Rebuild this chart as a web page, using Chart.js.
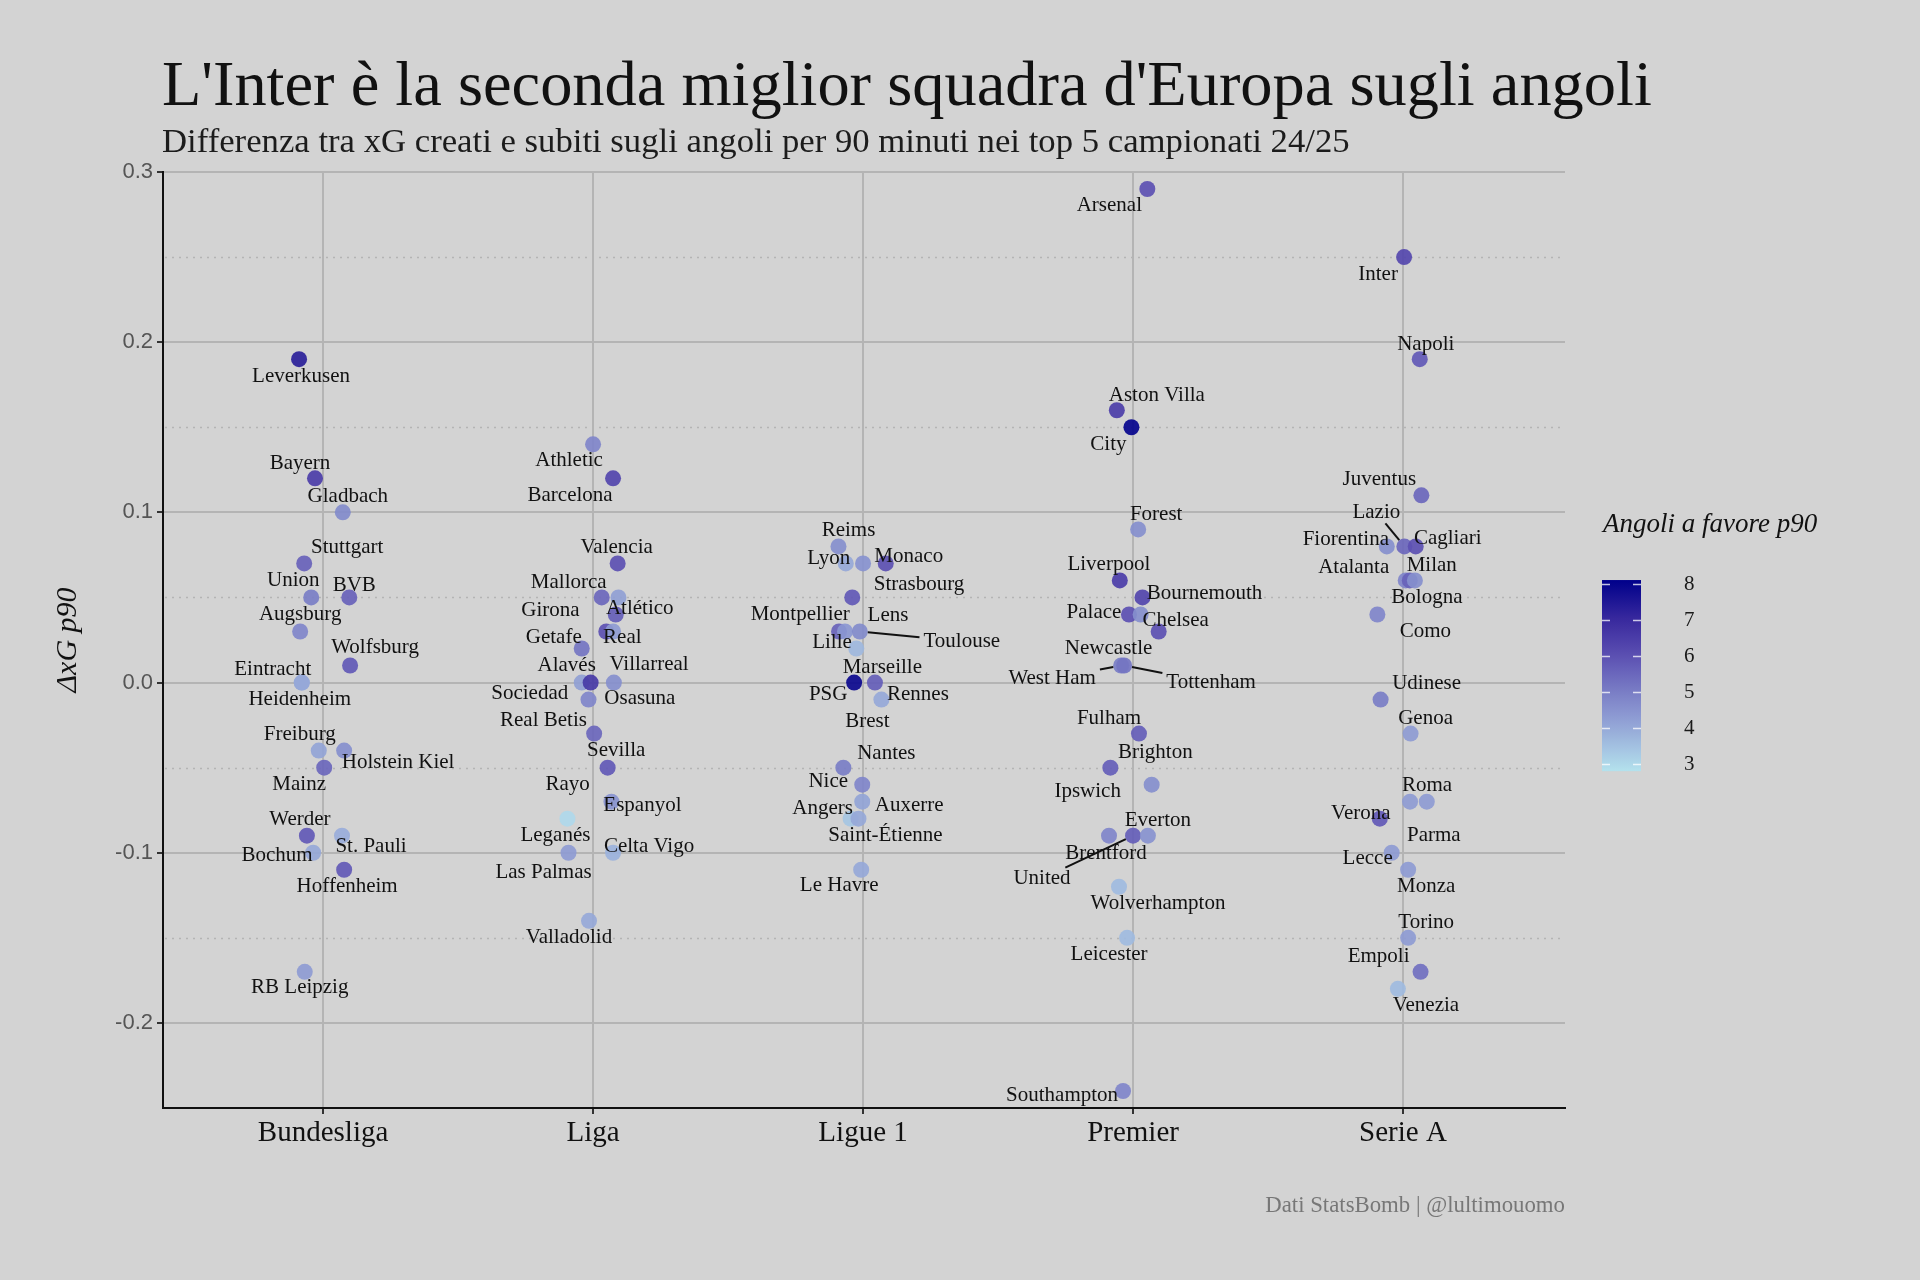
<!DOCTYPE html>
<html>
<head>
<meta charset="utf-8">
<script src="https://cdn.jsdelivr.net/npm/chart.js@4.4.1/dist/chart.umd.min.js"></script>
<style>
  html, body { margin: 0; padding: 0; background: #d3d3d3; }
  #wrap { width: 1920px; height: 1280px; }
</style>
</head>
<body>
<div id="wrap"><canvas id="corners" width="1920" height="1280"></canvas></div>
<script>
// --- data ---------------------------------------------------------------
var leagues = ['Bundesliga', 'Liga', 'Ligue 1', 'Premier', 'Serie A'];
var yTicks = [-0.2, -0.1, 0, 0.1, 0.2, 0.3];
var yMinorTicks = [-0.15, -0.05, 0.05, 0.15, 0.25];
var cornerTicks = [3, 4, 5, 6, 7, 8];

var bundesligaTeams = ['Leverkusen', 'Bayern', 'Gladbach', 'Stuttgart', 'Union', 'BVB', 'Augsburg', 'Wolfsburg', 'Eintracht', 'Heidenheim', 'Freiburg', 'Holstein Kiel', 'Mainz', 'Werder', 'St. Pauli', 'Bochum', 'Hoffenheim', 'RB Leipzig'];
var bundesligaXg = [0.19, 0.12, 0.10, 0.07, 0.05, 0.05, 0.03, 0.01, 0.00, 0.00, -0.04, -0.04, -0.05, -0.09, -0.09, -0.10, -0.11, -0.17];
var bundesligaCorners = [7.3, 6.5, 4.7, 5.6, 5.0, 5.6, 4.8, 5.8, 4.0, 4.0, 4.1, 4.6, 5.5, 5.8, 3.9, 4.0, 5.8, 4.3];
var bundesligaJitter = [-0.089, -0.03, 0.073, -0.07, -0.044, 0.097, -0.085, 0.1, -0.079, -0.079, -0.016, 0.078, 0.004, -0.06, 0.07, -0.037, 0.078, -0.068];

var ligaTeams = ['Athletic', 'Barcelona', 'Valencia', 'Mallorca', 'Girona', 'Atlético', 'Real', 'Villarreal', 'Getafe', 'Sociedad', 'Alavés', 'Osasuna', 'Real Betis', 'Sevilla', 'Rayo', 'Espanyol', 'Leganés', 'Las Palmas', 'Celta Vigo', 'Valladolid'];
var ligaXg = [0.14, 0.12, 0.07, 0.05, 0.05, 0.04, 0.03, 0.03, 0.02, 0.00, 0.00, 0.00, -0.01, -0.03, -0.05, -0.07, -0.08, -0.10, -0.10, -0.14];
var ligaCorners = [4.8, 6.3, 6.0, 5.5, 4.2, 5.7, 6.0, 4.3, 5.2, 4.2, 6.6, 4.6, 4.8, 5.5, 5.8, 4.5, 3.0, 4.3, 3.8, 4.0];
var ligaJitter = [0, 0.074, 0.091, 0.032, 0.094, 0.084, 0.049, 0.074, -0.042, -0.042, -0.009, 0.077, -0.017, 0.004, 0.054, 0.068, -0.095, -0.091, 0.074, -0.015];

var ligue1Teams = ['Reims', 'Lyon', 'Strasbourg', 'Monaco', 'Montpellier', 'Lille', 'Lens', 'Toulouse', 'Marseille', 'PSG', 'Rennes', 'Brest', 'Nantes', 'Nice', 'Auxerre', 'Angers', 'Saint-Étienne', 'Le Havre'];
var ligue1Xg = [0.08, 0.07, 0.07, 0.07, 0.05, 0.03, 0.03, 0.03, 0.02, 0.00, 0.00, -0.01, -0.05, -0.06, -0.07, -0.08, -0.08, -0.11];
var ligue1Corners = [4.6, 4.0, 4.5, 6.0, 5.8, 5.6, 4.4, 4.7, 3.7, 7.9, 5.7, 4.0, 5.0, 4.8, 4.1, 3.4, 4.0, 4.0];
var ligue1Jitter = [-0.091, -0.064, 0, 0.084, -0.04, -0.089, -0.067, -0.012, -0.025, -0.033, 0.044, 0.068, -0.073, -0.003, -0.003, -0.046, -0.017, -0.007];

var premierTeams = ['Arsenal', 'Aston Villa', 'City', 'Forest', 'Liverpool', 'Bournemouth', 'Palace', 'Newcastle', 'Chelsea', 'West Ham', 'Tottenham', 'Fulham', 'Brighton', 'Ipswich', 'Brentford', 'United', 'Everton', 'Wolverhampton', 'Leicester', 'Southampton'];
var premierXg = [0.29, 0.16, 0.15, 0.09, 0.06, 0.05, 0.04, 0.04, 0.03, 0.01, 0.01, -0.03, -0.05, -0.06, -0.09, -0.09, -0.09, -0.12, -0.15, -0.24];
var premierCorners = [6.0, 6.5, 8.0, 4.6, 6.5, 6.3, 6.0, 4.6, 6.0, 5.0, 5.2, 5.7, 5.7, 4.6, 4.8, 5.7, 4.5, 3.6, 3.6, 4.8];
var premierJitter = [0.053, -0.06, -0.006, 0.019, -0.049, 0.035, -0.015, 0.028, 0.095, -0.044, -0.033, 0.022, -0.084, 0.069, -0.089, 0, 0.055, -0.052, -0.022, -0.037];

var serieATeams = ['Inter', 'Napoli', 'Juventus', 'Lazio', 'Fiorentina', 'Cagliari', 'Atalanta', 'Milan', 'Bologna', 'Como', 'Udinese', 'Genoa', 'Roma', 'Parma', 'Verona', 'Lecce', 'Monza', 'Torino', 'Empoli', 'Venezia'];
var serieAXg = [0.25, 0.19, 0.11, 0.08, 0.08, 0.08, 0.06, 0.06, 0.06, 0.04, -0.01, -0.03, -0.07, -0.07, -0.08, -0.10, -0.11, -0.15, -0.17, -0.18];
var serieACorners = [6.2, 5.8, 5.5, 5.5, 4.6, 6.0, 4.8, 5.6, 4.6, 4.8, 5.0, 4.3, 4.3, 4.3, 5.8, 4.3, 4.3, 4.3, 5.3, 3.6];
var serieAJitter = [0.004, 0.062, 0.068, 0.005, -0.06, 0.047, 0.01, 0.025, 0.044, -0.095, -0.083, 0.028, 0.026, 0.088, -0.086, -0.042, 0.019, 0.019, 0.065, -0.019];

// --- label placement (px from the point, like ggrepel output) -----------
var labelNudge = {
  'Leverkusen': [2, 17], 'Bayern': [-15, -15], 'Gladbach': [5, -16], 'Stuttgart': [43, -16],
  'Union': [-18, -17], 'BVB': [5, -12], 'Augsburg': [0, -17], 'Wolfsburg': [25, -18],
  'Eintracht': [-29, -13], 'Heidenheim': [-2, 17], 'Freiburg': [-19, -16], 'Holstein Kiel': [54, 12],
  'Mainz': [-25, 17], 'Werder': [-7, -16], 'St. Pauli': [29, 11], 'Bochum': [-36, 3],
  'Hoffenheim': [3, 17], 'RB Leipzig': [-5, 16],
  'Athletic': [-24, 16], 'Barcelona': [-43, 17], 'Valencia': [-1, -16], 'Mallorca': [-33, -15],
  'Girona': [-68, 13], 'Atlético': [24, -6], 'Real': [16, 6], 'Villarreal': [36, 33],
  'Getafe': [-28, -11], 'Sociedad': [-52, 11], 'Alavés': [-24, -17], 'Osasuna': [26, 16],
  'Real Betis': [-45, 21], 'Sevilla': [22, 17], 'Rayo': [-40, 17], 'Espanyol': [31, 4],
  'Leganés': [-12, 17], 'Las Palmas': [-25, 20], 'Celta Vigo': [36, -6], 'Valladolid': [-20, 17],
  'Reims': [10, -16], 'Lyon': [-17, -5], 'Strasbourg': [56, 21], 'Monaco': [23, -7],
  'Montpellier': [-52, 17], 'Lille': [-7, 11], 'Lens': [43, -16], 'Toulouse': [102, 10, true],
  'Marseille': [26, 19], 'PSG': [-26, 12], 'Rennes': [43, 12], 'Brest': [-14, 22],
  'Nantes': [43, -14], 'Nice': [-34, -3], 'Auxerre': [47, 4], 'Angers': [-28, -10],
  'Saint-Étienne': [27, 17], 'Le Havre': [-22, 16],
  'Arsenal': [-38, 16], 'Aston Villa': [40, -15], 'City': [-23, 17], 'Forest': [18, -15],
  'Liverpool': [-11, -16], 'Bournemouth': [62, -4], 'Palace': [-35, -2], 'Newcastle': [-32, 34],
  'Chelsea': [17, -11], 'West Ham': [-69, 13, true], 'Tottenham': [87, 17, true], 'Fulham': [-30, -15],
  'Brighton': [45, -15], 'Ipswich': [-64, 7], 'Brentford': [-3, 18], 'United': [-91, 43, true],
  'Everton': [10, -15], 'Wolverhampton': [39, 17], 'Leicester': [-18, 17], 'Southampton': [-61, 5],
  'Inter': [-26, 17], 'Napoli': [6, -15], 'Juventus': [-42, -16], 'Lazio': [-28, -34, true],
  'Fiorentina': [-41, -7], 'Cagliari': [32, -8], 'Atalanta': [-52, -13], 'Milan': [22, -15],
  'Bologna': [12, 17], 'Como': [48, 17], 'Udinese': [46, -16], 'Genoa': [15, -15],
  'Roma': [17, -16], 'Parma': [7, 34], 'Verona': [-19, -5], 'Lecce': [-24, 6],
  'Monza': [18, 17], 'Torino': [18, -15], 'Empoli': [-42, -15], 'Venezia': [28, 17]
};

var SERIF = "'Liberation Serif', 'DejaVu Serif', serif";
var SANS = "'Liberation Sans', Arial, sans-serif";

// colour scale: lightblue -> slateblue -> navy
var colourStops = [
  [2.8, [180, 226, 237]],
  [4.0, [150, 168, 216]],
  [5.0, [122, 126, 198]],
  [6.0, [92, 80, 178]],
  [7.0, [58, 42, 158]],
  [8.1, [0, 0, 139]]
];
function cornerColour(v, alpha) {
  var c = colourStops[colourStops.length - 1][1];
  if (v <= colourStops[0][0]) c = colourStops[0][1];
  for (var i = 0; i < colourStops.length - 1; i++) {
    var a = colourStops[i], b = colourStops[i + 1];
    if (v >= a[0] && v <= b[0]) {
      var t = (v - a[0]) / (b[0] - a[0]);
      c = [0, 1, 2].map(function (k) { return Math.round(a[1][k] + (b[1][k] - a[1][k]) * t); });
      break;
    }
  }
  return 'rgba(' + c[0] + ',' + c[1] + ',' + c[2] + ',' + (alpha == null ? 1 : alpha) + ')';
}

var leagueSeries = [
  [bundesligaTeams, bundesligaXg, bundesligaCorners, bundesligaJitter],
  [ligaTeams, ligaXg, ligaCorners, ligaJitter],
  [ligue1Teams, ligue1Xg, ligue1Corners, ligue1Jitter],
  [premierTeams, premierXg, premierCorners, premierJitter],
  [serieATeams, serieAXg, serieACorners, serieAJitter]
];

var datasets = leagueSeries.map(function (s, li) {
  return {
    label: leagues[li],
    teams: s[0],
    data: s[1].map(function (y, i) { return { x: li + s[3][i], y: y }; }),
    pointBackgroundColor: s[2].map(function (c) { return cornerColour(c, 0.92); }),
    pointBorderWidth: 0,
    pointRadius: 8,
    pointHoverRadius: 8
  };
});

// fit text sizes to the widths seen in the reference
var measureCtx = document.createElement('canvas').getContext('2d');
function fitSize(text, font, width) {
  measureCtx.font = '100px ' + font;
  return 100 * width / measureCtx.measureText(text).width;
}
var titleText = "L'Inter è la seconda miglior squadra d'Europa sugli angoli";
var subtitleText = 'Differenza tra xG creati e subiti sugli angoli per 90 minuti nei top 5 campionati 24/25';
var captionText = 'Dati StatsBomb | @lultimouomo';
var titleSize = fitSize(titleText, SERIF, 1490);
var subtitleSize = fitSize(subtitleText, SERIF, 1188);
var captionSize = fitSize(captionText, SERIF, 300);

var decorations = {
  id: 'decorations',
  beforeDatasetsDraw: function (chart) {
    var ctx = chart.ctx, area = chart.chartArea, y = chart.scales.y;
    ctx.save();
    ctx.strokeStyle = '#b4b4b4';
    ctx.lineWidth = 1.3;
    ctx.setLineDash([2, 5]);
    yMinorTicks.forEach(function (v) {
      var py = Math.round(y.getPixelForValue(v)) + 0.5;
      ctx.beginPath();
      ctx.moveTo(area.left + 2, py);
      ctx.lineTo(area.right, py);
      ctx.stroke();
    });
    ctx.restore();
  },
  afterDatasetsDraw: function (chart) {
    var ctx = chart.ctx;
    ctx.save();
    ctx.font = '21px ' + SERIF;
    ctx.fillStyle = '#111';
    ctx.strokeStyle = '#111';
    ctx.lineWidth = 2;
    ctx.textAlign = 'center';
    ctx.textBaseline = 'middle';
    chart.data.datasets.forEach(function (ds, d) {
      var meta = chart.getDatasetMeta(d);
      ds.teams.forEach(function (name, i) {
        var pt = meta.data[i];
        var nudge = labelNudge[name] || [0, 17];
        var lx = pt.x + nudge[0], ly = pt.y + nudge[1];
        if (nudge[2]) {
          var w = ctx.measureText(name).width, h = 18;
          var dx = lx - pt.x, dy = ly - pt.y;
          var tx = dx !== 0 ? (w / 2 + 4) / Math.abs(dx) : Infinity;
          var ty = dy !== 0 ? (h / 2 + 2) / Math.abs(dy) : Infinity;
          var t = Math.min(tx, ty);
          var len = Math.hypot(dx, dy);
          ctx.beginPath();
          ctx.moveTo(pt.x + dx / len * 8, pt.y + dy / len * 8);
          ctx.lineTo(lx - dx * t, ly - dy * t);
          ctx.stroke();
        }
        ctx.fillText(name, lx, ly);
      });
    });
    ctx.restore();
  },
  afterDraw: function (chart) {
    var ctx = chart.ctx, area = chart.chartArea;
    ctx.save();
    // title block
    ctx.textAlign = 'left';
    ctx.textBaseline = 'alphabetic';
    ctx.fillStyle = '#111';
    ctx.font = titleSize + 'px ' + SERIF;
    ctx.fillText(titleText, area.left - 1, 105);
    ctx.fillStyle = '#1c1c1c';
    ctx.font = subtitleSize + 'px ' + SERIF;
    ctx.fillText(subtitleText, area.left - 1, 152);
    // caption
    ctx.textAlign = 'right';
    ctx.fillStyle = '#777';
    ctx.font = captionSize + 'px ' + SERIF;
    ctx.fillText(captionText, area.right, 1212);

    // colour bar legend
    var barX = 1602, barW = 39, topV = 8.11, botV = 2.8;
    var yOf = function (v) { return 584 + (8 - v) * 36; };
    var top = yOf(topV), bot = yOf(botV);
    var grad = ctx.createLinearGradient(0, top, 0, bot);
    for (var k = 0; k <= 20; k++) {
      var v = topV - (topV - botV) * k / 20;
      grad.addColorStop(k / 20, cornerColour(v, 1));
    }
    ctx.fillStyle = grad;
    ctx.fillRect(barX, top, barW, bot - top);
    ctx.strokeStyle = 'rgba(255,255,255,0.75)';
    ctx.lineWidth = 1.5;
    ctx.textAlign = 'left';
    ctx.textBaseline = 'middle';
    ctx.fillStyle = '#1a1a1a';
    ctx.font = '21px ' + SERIF;
    cornerTicks.forEach(function (t) {
      var py = Math.round(yOf(t)) + 0.5;
      ctx.beginPath();
      ctx.moveTo(barX, py); ctx.lineTo(barX + 8, py);
      ctx.moveTo(barX + barW - 8, py); ctx.lineTo(barX + barW, py);
      ctx.stroke();
      ctx.fillText(String(t), 1684, py);
    });
    ctx.textBaseline = 'alphabetic';
    ctx.font = 'italic 27px ' + SERIF;
    ctx.fillStyle = '#111';
    ctx.fillText('Angoli a favore p90', 1603, 532);
    ctx.restore();
  }
};

var canvas = document.getElementById('corners');
var cornersChart = new Chart(canvas, {
  type: 'scatter',
  data: { datasets: datasets },
  options: {
    responsive: false,
    animation: false,
    devicePixelRatio: 1,
    layout: { padding: { top: 172, right: 355, bottom: 0, left: 0 } },
    plugins: {
      legend: { display: false },
      tooltip: { enabled: false }
    },
    scales: {
      x: {
        type: 'linear',
        min: -0.593,
        max: 4.6,
        afterBuildTicks: function (scale) {
          scale.ticks = leagues.map(function (_, i) { return { value: i }; });
        },
        afterFit: function (scale) { scale.height = 172; },
        ticks: {
          autoSkip: false,
          maxRotation: 0,
          padding: 2,
          color: '#111',
          font: { family: SERIF, size: 29 },
          callback: function (value) { return leagues[value]; }
        },
        grid: { color: '#b4b4b4', lineWidth: 2, tickColor: '#333', tickLength: 6, tickWidth: 2 },
        border: { color: '#111', width: 2 }
      },
      y: {
        min: -0.25,
        max: 0.3,
        afterBuildTicks: function (scale) {
          scale.ticks = yTicks.map(function (v) { return { value: v }; });
        },
        afterFit: function (scale) { scale.width = 163; },
        ticks: {
          padding: 4,
          color: '#555',
          font: { family: SANS, size: 22 },
          callback: function (value) { return value.toFixed(1); }
        },
        grid: { color: '#b4b4b4', lineWidth: 2, tickColor: '#333', tickLength: 6, tickWidth: 2 },
        border: { color: '#111', width: 2 },
        title: {
          display: true,
          text: 'ΔxG p90',
          color: '#111',
          font: { family: SERIF, size: 30, style: 'italic' },
          padding: { top: 50, bottom: 0 }
        }
      }
    }
  },
  plugins: [decorations]
});
</script>
</body>
</html>
